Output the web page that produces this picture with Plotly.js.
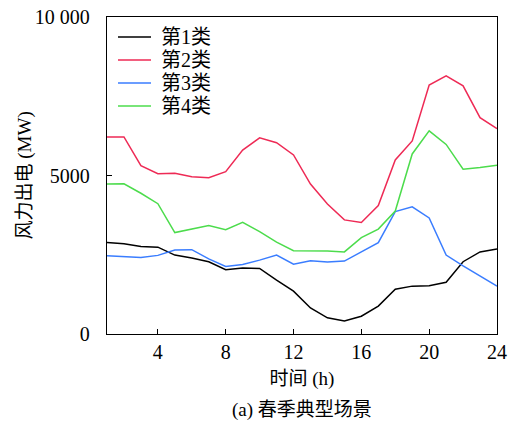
<!DOCTYPE html>
<html>
<head>
<meta charset="utf-8">
<script src="https://cdn.plot.ly/plotly-3.0.1.min.js"></script>
<style>html,body{margin:0;padding:0;background:#fff;}#chart{width:509px;height:421px;}</style>
</head>
<body>
<div id="chart"></div>
<script>
const hours = [1,2,3,4,5,6,7,8,9,10,11,12,13,14,15,16,17,18,19,20,21,22,23,24];
const seriesNames = ["第1类","第2类","第3类","第4类"];
const class1 = [2890,2850,2760,2740,2490,2400,2280,2030,2080,2070,1700,1350,820,510,410,560,880,1410,1510,1520,1630,2280,2590,2680];
const class2 = [6215,6215,5310,5057,5070,4960,4930,5120,5800,6190,6035,5650,4730,4100,3600,3520,4050,5490,6090,7855,8140,7830,6825,6480];
const class3 = [2470,2430,2410,2480,2650,2660,2370,2130,2190,2330,2490,2200,2310,2270,2300,2590,2880,3860,4010,3660,2490,2150,1840,1510];
const class4 = [4730,4740,4440,4110,3200,3300,3420,3290,3520,3230,2900,2630,2630,2620,2590,3040,3310,3880,5680,6410,5980,5200,5250,5320];
const xTicks = [4,8,12,16,20,24];
const yTickVals = [0,5000,10000];
const yTickText = ["0","5000","10 000"];
const colors = ["#000000","#ee2a55","#3a7dff","#4cdc4c"];
const allSeries = [class1,class2,class3,class4];

const FONT = "'Liberation Serif', 'Times New Roman', 'Noto Sans CJK SC', serif";
const traces = allSeries.map((ys,i)=>({
  x: hours, y: ys, name: seriesNames[i], type: "scatter", mode: "lines",
  line: {color: colors[i], width: 1.5}, showlegend: false
}));

// custom legend (paper coordinates), plot area 107..497 x 17..334 px
const plotW = 390, plotH = 317;
const legRowsPx = [37, 60, 83, 106];
const shapes = [], annotations = [];
seriesNames.forEach((name,i)=>{
  const yp = (334 - legRowsPx[i]) / plotH;
  shapes.push({type:"line", xref:"paper", yref:"paper",
    x0:(118-107)/plotW, x1:(151-107)/plotW, y0:yp, y1:yp,
    line:{color:colors[i], width:1.5}});
  annotations.push({text:name, xref:"paper", yref:"paper", x:(159-107)/plotW, y:yp,
    xanchor:"left", yanchor:"middle", showarrow:false, font:{family:FONT, size:20}});
});
annotations.push({
  text: "(a) 春季典型场景", xref: "paper", yref: "paper", x: 0.5, y: 0, yshift: -76,
  xanchor: "center", yanchor: "middle", showarrow: false, font: {family: FONT, size: 19}
});
annotations.push({
  text: "风力出电 (MW)", xref: "paper", yref: "paper", x: (24-107)/plotW, y: 0.5,
  xanchor: "center", yanchor: "middle", textangle: -90, showarrow: false,
  font: {family: FONT, size: 19}
});

const layout = {
  width: 509, height: 421,
  margin: {l:107, r:12, t:17, b:87},
  paper_bgcolor: "#fff", plot_bgcolor: "#fff",
  font: {family: FONT, size: 20, color: "#000"},
  showlegend: false,
  xaxis: {
    range: [1,24], tickvals: xTicks, ticks: "inside", ticklen: 5, tickcolor: "#000",
    showline: true, linecolor: "#000", linewidth: 1.2, mirror: true, showgrid: false, zeroline: false,
    tickfont: {family: FONT, size: 20},
    title: {text: "时间 (h)", font: {family: FONT, size: 19}, standoff: 9}
  },
  yaxis: {
    range: [0,10000], tickvals: yTickVals, ticktext: yTickText, ticks: "inside", ticklen: 5, tickcolor: "#000",
    showline: true, linecolor: "#000", linewidth: 1.2, mirror: true, showgrid: false, zeroline: false,
    tickfont: {family: FONT, size: 20}, ticklabelstandoff: 12
  },
  shapes: shapes,
  annotations: annotations
};
Plotly.newPlot("chart", traces, layout, {displayModeBar: false, staticPlot: true});
</script>
</body>
</html>
